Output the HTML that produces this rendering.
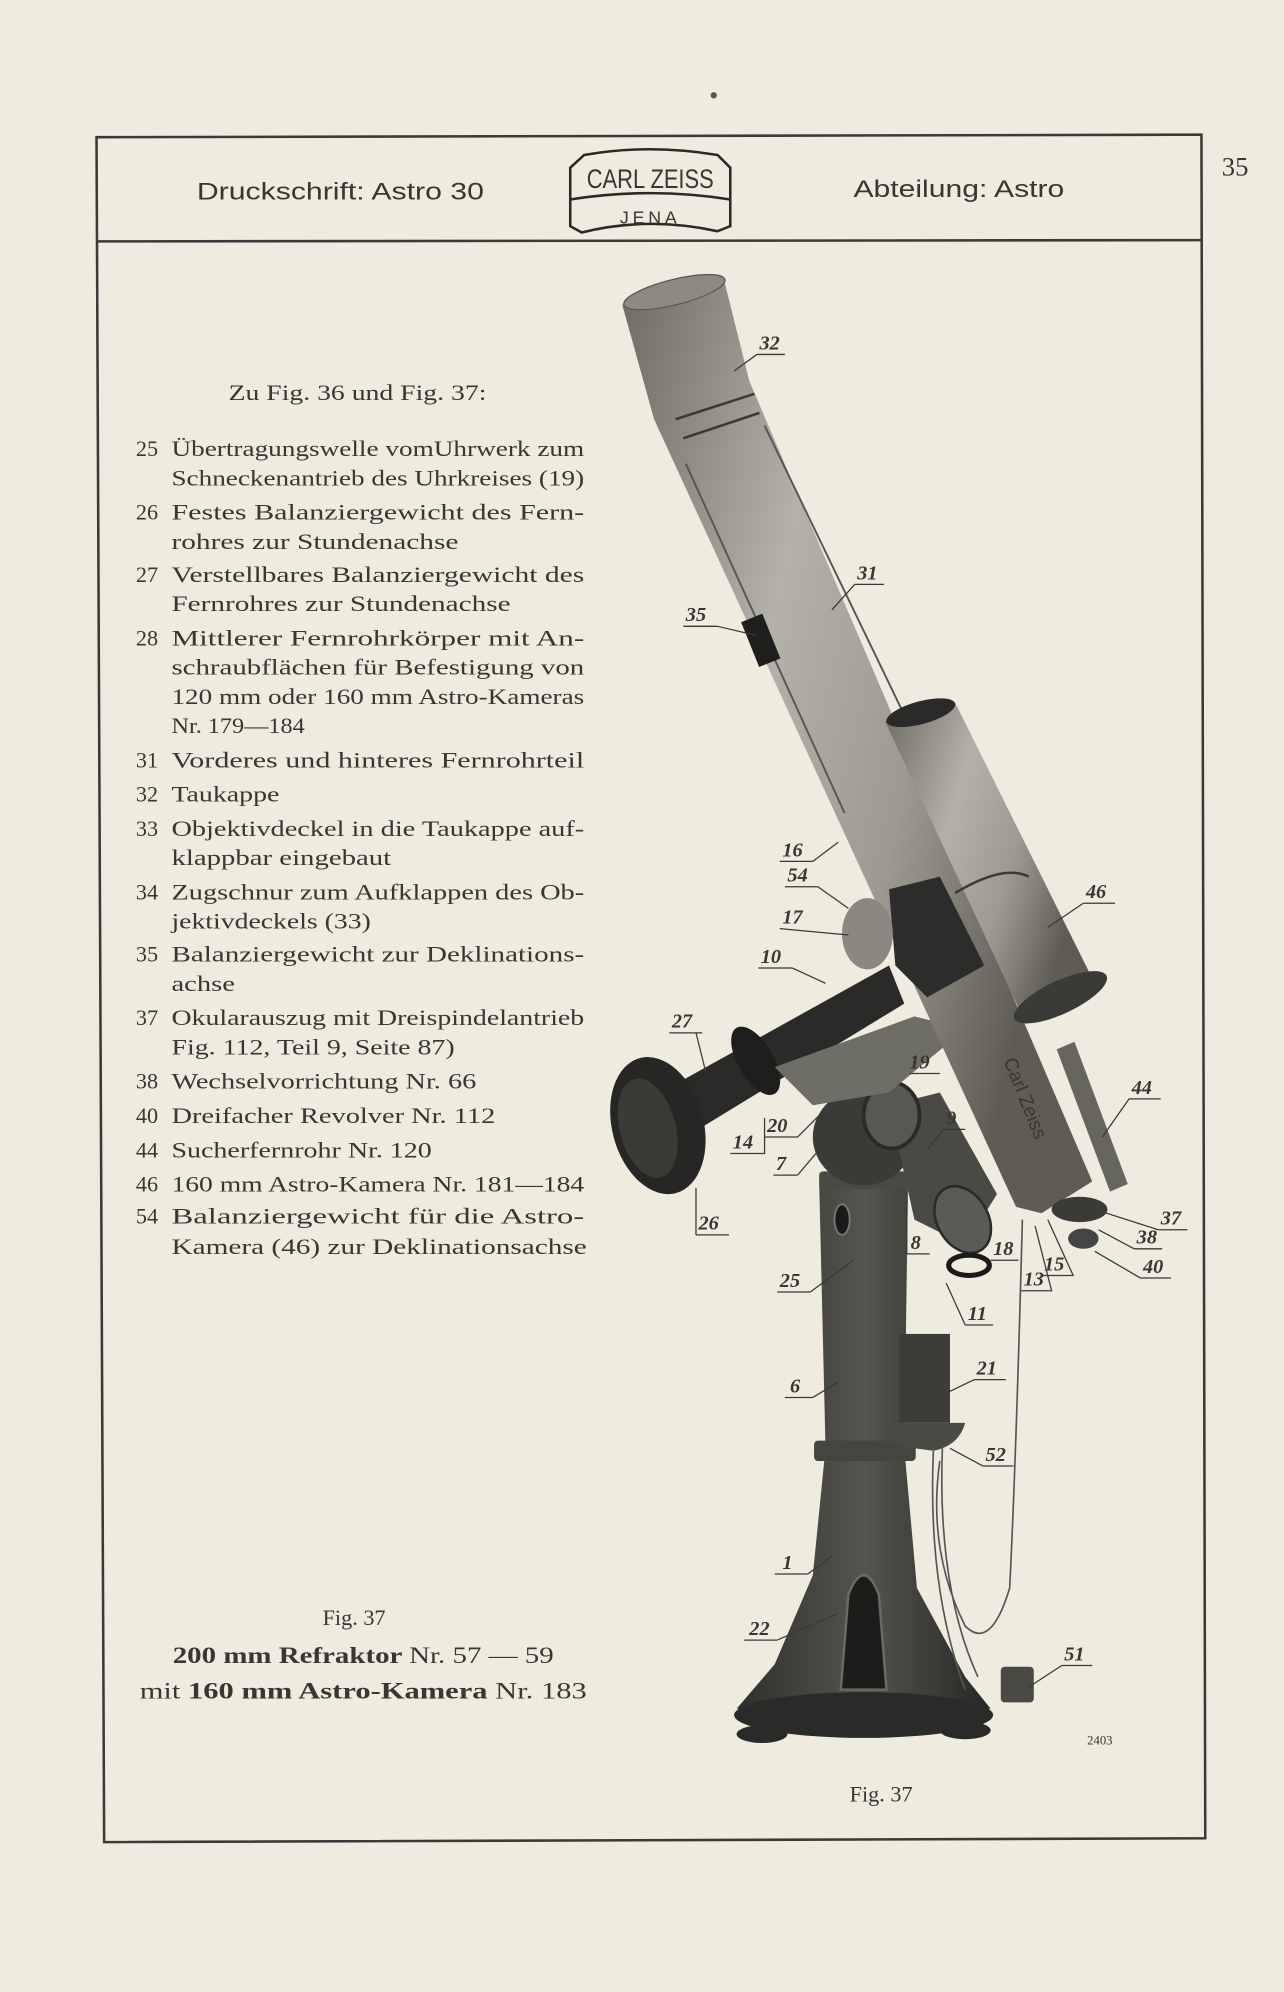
<!DOCTYPE html>
<html><head><meta charset="utf-8">
<style>
html,body{margin:0;padding:0;background:#efebdf;}
svg{display:block}
text{font-family:"Liberation Serif",serif;fill:#3a3630}
.b{font-family:"Liberation Sans",sans-serif}
.l{font-family:"Liberation Sans",sans-serif;font-style:italic;font-weight:bold;font-size:16px;fill:#3a3630}
</style></head>
<body>
<svg width="1284" height="1992" viewBox="0 0 1011 1568" preserveAspectRatio="none" xmlns="http://www.w3.org/2000/svg">
<defs>
<linearGradient id="tg" x1="0" y1="0" x2="1" y2="0.45">
<stop offset="0" stop-color="#6d6b63"/><stop offset="0.4" stop-color="#b4b2a8"/><stop offset="0.7" stop-color="#9d9b91"/><stop offset="1" stop-color="#5e5c55"/></linearGradient>
<linearGradient id="pg" x1="0" y1="0" x2="1" y2="0">
<stop offset="0" stop-color="#2e2e2c"/><stop offset="0.5" stop-color="#55554f"/><stop offset="1" stop-color="#262624"/></linearGradient>
</defs>
<rect width="1011" height="1568" fill="#efebdf"/>
<circle cx="562" cy="75" r="2.5" fill="#555"/>
<!-- frame -->
<path d="M76 108 L946 106 L949 1447 L82 1450 Z" fill="none" stroke="#3a3a36" stroke-width="2"/>
<line x1="76" y1="190" x2="946" y2="189" stroke="#3a3a36" stroke-width="2"/>
<text x="962" y="138" font-size="21">35</text>
<text x="155" y="157" font-size="19" class="b" textLength="226" lengthAdjust="spacingAndGlyphs">Druckschrift: Astro 30</text>
<text x="672" y="155" font-size="19" class="b" textLength="166" lengthAdjust="spacingAndGlyphs">Abteilung: Astro</text>
<!-- logo -->
<path d="M449 132 L460 122 Q510 113 565 122 L575 132 L575 178 L565 182 Q510 170 458 183 L449 178 Z" fill="none" stroke="#2a2a26" stroke-width="2"/>
<path d="M449 157 Q512 147 575 157" fill="none" stroke="#2a2a26" stroke-width="2"/>
<text x="512" y="148" font-size="21" text-anchor="middle" class="b" textLength="100" lengthAdjust="spacingAndGlyphs">CARL ZEISS</text>
<text x="512" y="176" font-size="14" text-anchor="middle" class="b" letter-spacing="3">JENA</text>
<!-- text list -->
<g font-size="17.5" lengthAdjust="spacingAndGlyphs">
<text x="180" y="315" textLength="203" lengthAdjust="spacingAndGlyphs">Zu Fig. 36 und Fig. 37:</text>
<text x="107" y="359">25</text><text x="135" y="359" textLength="325" lengthAdjust="spacingAndGlyphs">Übertragungswelle vomUhrwerk zum</text>
<text x="135" y="382" textLength="325" lengthAdjust="spacingAndGlyphs">Schneckenantrieb des Uhrkreises (19)</text>
<text x="107" y="409">26</text><text x="135" y="409" textLength="325" lengthAdjust="spacingAndGlyphs">Festes Balanziergewicht des Fern-</text>
<text x="135" y="432" textLength="226" lengthAdjust="spacingAndGlyphs">rohres zur Stundenachse</text>
<text x="107" y="458">27</text><text x="135" y="458" textLength="325" lengthAdjust="spacingAndGlyphs">Verstellbares Balanziergewicht des</text>
<text x="135" y="481" textLength="267" lengthAdjust="spacingAndGlyphs">Fernrohres zur Stundenachse</text>
<text x="107" y="508">28</text><text x="135" y="508" textLength="325" lengthAdjust="spacingAndGlyphs">Mittlerer Fernrohrkörper mit An-</text>
<text x="135" y="531" textLength="325" lengthAdjust="spacingAndGlyphs">schraubflächen für Befestigung von</text>
<text x="135" y="554" textLength="325" lengthAdjust="spacingAndGlyphs">120 mm oder 160 mm Astro-Kameras</text>
<text x="135" y="577" textLength="105" lengthAdjust="spacingAndGlyphs">Nr. 179—184</text>
<text x="107" y="604">31</text><text x="135" y="604" textLength="325" lengthAdjust="spacingAndGlyphs">Vorderes und hinteres Fernrohrteil</text>
<text x="107" y="631">32</text><text x="135" y="631" textLength="85" lengthAdjust="spacingAndGlyphs">Taukappe</text>
<text x="107" y="658">33</text><text x="135" y="658" textLength="325" lengthAdjust="spacingAndGlyphs">Objektivdeckel in die Taukappe auf-</text>
<text x="135" y="681" textLength="173" lengthAdjust="spacingAndGlyphs">klappbar eingebaut</text>
<text x="107" y="708">34</text><text x="135" y="708" textLength="325" lengthAdjust="spacingAndGlyphs">Zugschnur zum Aufklappen des Ob-</text>
<text x="135" y="731" textLength="157" lengthAdjust="spacingAndGlyphs">jektivdeckels (33)</text>
<text x="107" y="757">35</text><text x="135" y="757" textLength="325" lengthAdjust="spacingAndGlyphs">Balanziergewicht zur Deklinations-</text>
<text x="135" y="780" textLength="50" lengthAdjust="spacingAndGlyphs">achse</text>
<text x="107" y="807">37</text><text x="135" y="807" textLength="325" lengthAdjust="spacingAndGlyphs">Okularauszug mit Dreispindelantrieb</text>
<text x="135" y="830" textLength="223" lengthAdjust="spacingAndGlyphs">Fig. 112, Teil 9, Seite 87)</text>
<text x="107" y="857">38</text><text x="135" y="857" textLength="240" lengthAdjust="spacingAndGlyphs">Wechselvorrichtung Nr. 66</text>
<text x="107" y="884">40</text><text x="135" y="884" textLength="255" lengthAdjust="spacingAndGlyphs">Dreifacher Revolver Nr. 112</text>
<text x="107" y="911">44</text><text x="135" y="911" textLength="205" lengthAdjust="spacingAndGlyphs">Sucherfernrohr Nr. 120</text>
<text x="107" y="938">46</text><text x="135" y="938" textLength="325" lengthAdjust="spacingAndGlyphs">160 mm Astro-Kamera Nr. 181—184</text>
<text x="107" y="963">54</text><text x="135" y="963" textLength="325" lengthAdjust="spacingAndGlyphs">Balanziergewicht für die Astro-</text>
<text x="135" y="987" textLength="327" lengthAdjust="spacingAndGlyphs">Kamera (46) zur Deklinationsachse</text>
<text x="254" y="1279">Fig. 37</text>
<text x="136" y="1309" font-weight="bold" font-size="18" textLength="300" lengthAdjust="spacingAndGlyphs">200 mm Refraktor <tspan font-weight="normal">Nr. 57 — 59</tspan></text>
<text x="110" y="1337" font-size="18" textLength="352" lengthAdjust="spacingAndGlyphs">mit <tspan font-weight="bold">160 mm Astro-Kamera</tspan> Nr. 183</text>
<text x="669" y="1418">Fig. 37</text>
<text x="856" y="1373" font-size="10">2403</text>
</g>
<!-- pier -->
<path d="M645 930 L715 930 L712 1140 L722 1250 L760 1320 L780 1345 L580 1345 L610 1310 L640 1240 L650 1140 Z" fill="url(#pg)"/>
<ellipse cx="680" cy="1350" rx="102" ry="18" fill="#2a2a28"/>
<ellipse cx="600" cy="1365" rx="20" ry="7" fill="#2a2a28"/>
<ellipse cx="760" cy="1362" rx="20" ry="7" fill="#2a2a28"/>
<rect x="641" y="1134" width="80" height="16" rx="3" fill="#45453f"/>
<rect x="645" y="922" width="76" height="14" rx="3" fill="#4a4a44"/>
<path d="M668 1255 Q680 1225 692 1255 L698 1330 L662 1330 Z" fill="#1c1c1a" stroke="#6a6a62" stroke-width="2"/>
<ellipse cx="663" cy="960" rx="6" ry="12" fill="#1a1a18" stroke="#777" stroke-width="1.5"/>
<rect x="708" y="1050" width="40" height="70" fill="#3c3c38"/>
<path d="M700 1120 L760 1120 Q755 1138 735 1142 L705 1138 Z" fill="#4a4a44"/>
<path d="M735 1140 Q730 1250 760 1330 M742 1140 Q738 1250 770 1320 M805 960 Q800 1150 795 1250 Q780 1300 760 1280 Q730 1220 740 1150" fill="none" stroke="#555" stroke-width="1.3"/>
<rect x="788" y="1312" width="26" height="28" rx="3" fill="#4a4a44"/>
<!-- head -->
<ellipse cx="680" cy="895" rx="40" ry="38" fill="#3a3a36"/>
<path d="M700 870 L740 860 L785 940 L760 980 L720 960 Z" fill="#4a4a45"/>
<ellipse cx="702" cy="878" rx="22" ry="26" fill="#585852" stroke="#2a2a28" stroke-width="3"/>
<ellipse cx="758" cy="960" rx="20" ry="28" transform="rotate(-30 758 960)" fill="#5b5b55" stroke="#2a2a28" stroke-width="2"/>
<ellipse cx="763" cy="996" rx="16" ry="8" fill="none" stroke="#1a1a18" stroke-width="4"/>
<path d="M520 860 L700 760 L712 790 L540 895 Z" fill="#2a2a28"/>
<ellipse cx="595" cy="835" rx="14" ry="30" transform="rotate(-30 595 835)" fill="#1e1e1c"/>
<ellipse cx="518" cy="886" rx="36" ry="55" transform="rotate(-15 518 886)" fill="#262624"/>
<ellipse cx="510" cy="888" rx="22" ry="40" transform="rotate(-15 510 888)" fill="#3a3a36"/>
<path d="M610 840 L720 800 L760 810 L700 860 L640 870 Z" fill="#6e6d66"/>
<!-- main tube -->
<path d="M490 240 L570 220 L590 300 L860 930 L820 955 L800 950 L515 330 Z" fill="url(#tg)"/>
<ellipse cx="531" cy="230" rx="41" ry="10" transform="rotate(-14 531 230)" fill="#8c8a82" stroke="#5a5a54"/>
<path d="M538 345 L598 325 M532 330 L594 310" stroke="#3a3a36" stroke-width="2"/>
<line x1="540" y1="365" x2="665" y2="640" stroke="#555" stroke-width="1.5"/>
<line x1="602" y1="335" x2="730" y2="600" stroke="#555" stroke-width="1.5"/>
<rect x="590" y="485" width="18" height="38" fill="#1e1e1c" transform="rotate(-22 599 504)"/>
<text x="790" y="835" font-size="15" transform="rotate(68 790 835)" fill="#c8c6bc" class="b">Carl Zeiss</text>
<!-- mount block -->
<path d="M700 700 L740 690 L775 760 L730 785 L705 760 Z" fill="#2c2c2a"/>
<ellipse cx="683" cy="735" rx="20" ry="28" fill="#8a8880"/>
<!-- camera tube -->
<path d="M697 568 L752 553 L860 770 L805 800 Z" fill="url(#tg)"/>
<ellipse cx="725" cy="561" rx="28" ry="9" transform="rotate(-15 725 561)" fill="#2a2a28"/>
<ellipse cx="835" cy="785" rx="40" ry="13" transform="rotate(-25 835 785)" fill="#3a3a36"/>
<path d="M752 703 Q790 680 810 690" fill="none" stroke="#3a3a36" stroke-width="2"/>
<!-- finder -->
<path d="M832 826 L846 820 L888 932 L874 938 Z" fill="#66655e"/>
<ellipse cx="850" cy="952" rx="22" ry="10" fill="#3a3a36"/>
<ellipse cx="853" cy="975" rx="12" ry="8" fill="#444"/>
<!-- labels -->
<g class="l">
<text x="598" y="275">32</text><line x1="596" y1="279" x2="618" y2="279" stroke="#3a3a36"/><line x1="596" y1="279" x2="578" y2="292" stroke="#3a3a36"/>
<text x="675" y="456">31</text><line x1="673" y1="460" x2="696" y2="460" stroke="#3a3a36"/><line x1="673" y1="460" x2="655" y2="480" stroke="#3a3a36"/>
<text x="540" y="489">35</text><line x1="538" y1="493" x2="565" y2="493" stroke="#3a3a36"/><line x1="565" y1="493" x2="595" y2="500" stroke="#3a3a36"/>
<text x="616" y="674">16</text><line x1="614" y1="678" x2="640" y2="678" stroke="#3a3a36"/><line x1="640" y1="678" x2="660" y2="663" stroke="#3a3a36"/>
<text x="620" y="694">54</text><line x1="618" y1="698" x2="644" y2="698" stroke="#3a3a36"/><line x1="644" y1="698" x2="668" y2="715" stroke="#3a3a36"/>
<text x="616" y="727">17</text><line x1="614" y1="731" x2="668" y2="736" stroke="#3a3a36"/>
<text x="599" y="758">10</text><line x1="597" y1="762" x2="624" y2="762" stroke="#3a3a36"/><line x1="624" y1="762" x2="650" y2="774" stroke="#3a3a36"/>
<text x="855" y="707">46</text><line x1="853" y1="711" x2="878" y2="711" stroke="#3a3a36"/><line x1="853" y1="711" x2="825" y2="730" stroke="#3a3a36"/>
<text x="529" y="809">27</text><line x1="527" y1="813" x2="553" y2="813" stroke="#3a3a36"/><line x1="548" y1="813" x2="556" y2="845" stroke="#3a3a36"/>
<text x="716" y="841">19</text><line x1="716" y1="845" x2="740" y2="845" stroke="#3a3a36"/>
<text x="604" y="891">20</text><line x1="602" y1="895" x2="628" y2="895" stroke="#3a3a36"/><line x1="628" y1="895" x2="645" y2="878" stroke="#3a3a36"/>
<text x="577" y="904">14</text><path d="M575 908 L602 908 L602 880" fill="none" stroke="#3a3a36"/>
<text x="745" y="885">9</text><line x1="743" y1="889" x2="760" y2="889" stroke="#3a3a36"/><line x1="743" y1="889" x2="730" y2="905" stroke="#3a3a36"/>
<text x="611" y="921">7</text><line x1="609" y1="925" x2="628" y2="925" stroke="#3a3a36"/><line x1="628" y1="925" x2="645" y2="905" stroke="#3a3a36"/>
<text x="891" y="861">44</text><line x1="889" y1="865" x2="914" y2="865" stroke="#3a3a36"/><line x1="889" y1="865" x2="868" y2="895" stroke="#3a3a36"/>
<text x="550" y="968">26</text><path d="M548 972 L574 972 M548 972 L548 935" fill="none" stroke="#3a3a36"/>
<text x="717" y="983">8</text><path d="M714 987 L732 987 M714 987 L714 945" fill="none" stroke="#3a3a36"/>
<text x="782" y="988">18</text><line x1="780" y1="992" x2="802" y2="992" stroke="#3a3a36"/>
<text x="806" y="1012">13</text><path d="M804 1016 L828 1016 L815 965" fill="none" stroke="#3a3a36"/>
<text x="822" y="1000">15</text><path d="M820 1004 L845 1004 L825 960" fill="none" stroke="#3a3a36"/>
<text x="914" y="964">37</text><path d="M912 968 L935 968 M912 968 L862 952" fill="none" stroke="#3a3a36"/>
<text x="895" y="979">38</text><path d="M893 983 L915 983 M893 983 L865 968" fill="none" stroke="#3a3a36"/>
<text x="900" y="1002">40</text><path d="M898 1006 L922 1006 M898 1006 L862 985" fill="none" stroke="#3a3a36"/>
<text x="614" y="1013">25</text><line x1="612" y1="1017" x2="638" y2="1017" stroke="#3a3a36"/><line x1="638" y1="1017" x2="672" y2="992" stroke="#3a3a36"/>
<text x="762" y="1039">11</text><path d="M760 1043 L782 1043 M760 1043 L745 1010" fill="none" stroke="#3a3a36"/>
<text x="769" y="1082">21</text><line x1="767" y1="1086" x2="792" y2="1086" stroke="#3a3a36"/><line x1="767" y1="1086" x2="742" y2="1098" stroke="#3a3a36"/>
<text x="622" y="1096">6</text><line x1="618" y1="1100" x2="640" y2="1100" stroke="#3a3a36"/><line x1="640" y1="1100" x2="660" y2="1088" stroke="#3a3a36"/>
<text x="776" y="1150">52</text><line x1="774" y1="1154" x2="798" y2="1154" stroke="#3a3a36"/><line x1="774" y1="1154" x2="748" y2="1140" stroke="#3a3a36"/>
<text x="616" y="1235">1</text><line x1="610" y1="1239" x2="636" y2="1239" stroke="#3a3a36"/><line x1="636" y1="1239" x2="655" y2="1225" stroke="#3a3a36"/>
<text x="590" y="1287">22</text><line x1="586" y1="1291" x2="612" y2="1291" stroke="#3a3a36"/><line x1="612" y1="1291" x2="660" y2="1270" stroke="#3a3a36"/>
<text x="838" y="1307">51</text><line x1="836" y1="1311" x2="860" y2="1311" stroke="#3a3a36"/><line x1="836" y1="1311" x2="810" y2="1328" stroke="#3a3a36"/>
</g>
</svg>
</body></html>
